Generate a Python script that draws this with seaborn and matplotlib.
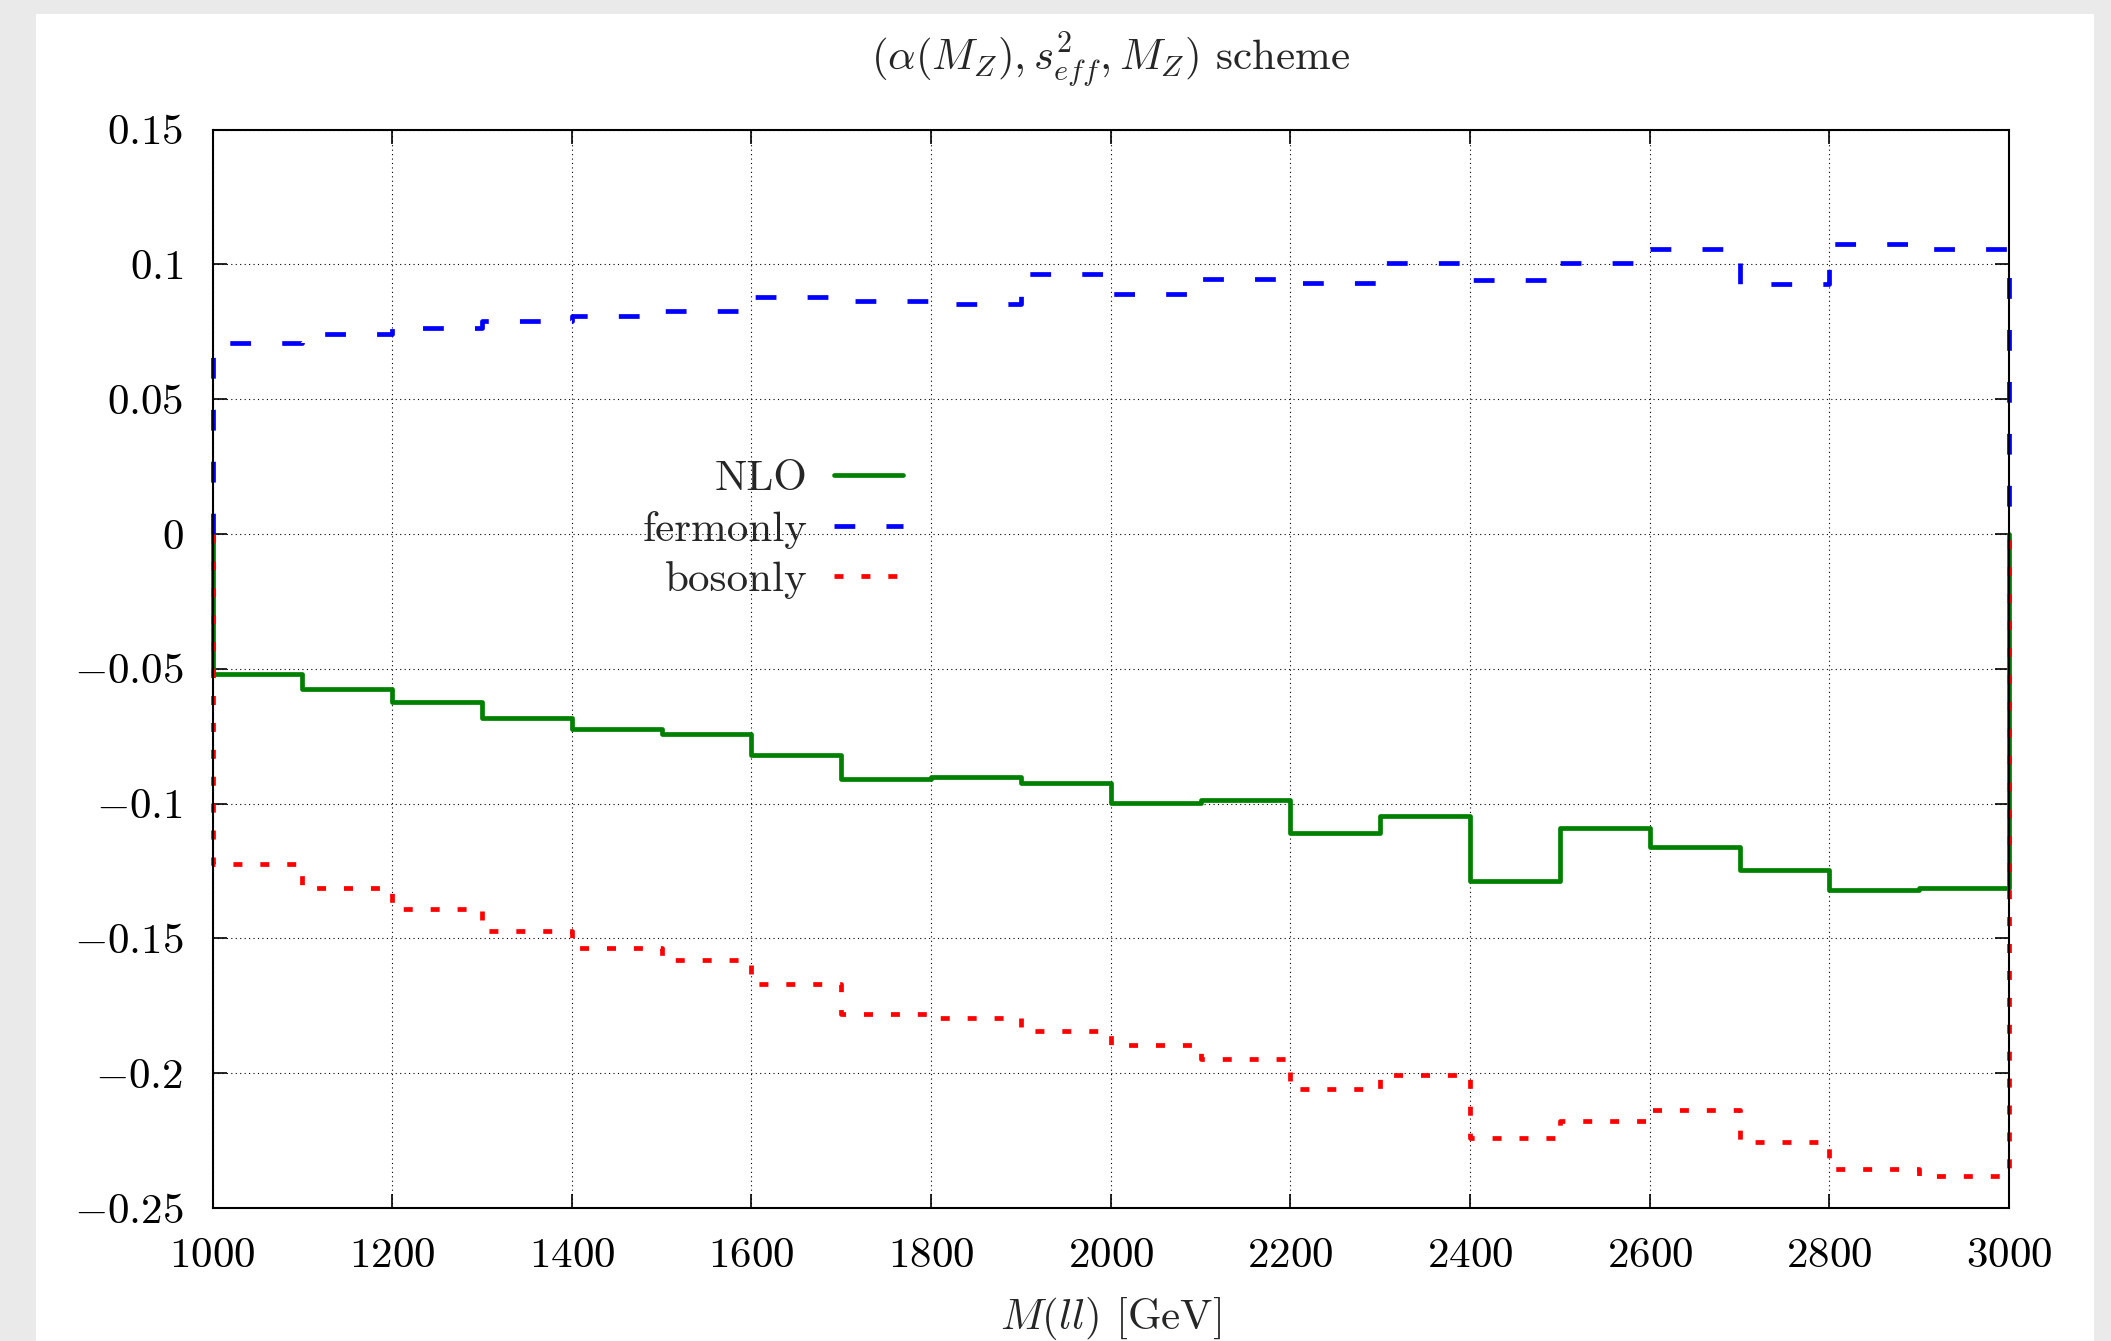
import numpy as np
import pandas as pd
import matplotlib
matplotlib.use("Agg")
import matplotlib.pyplot as plt
import seaborn as sns
from matplotlib.patches import Rectangle
from matplotlib.ticker import FixedLocator, FixedFormatter

# ---------------- data ----------------
bin_edges = [1000, 1100, 1200, 1300, 1400, 1500, 1600, 1700, 1800, 1900, 2000,
             2100, 2200, 2300, 2400, 2500, 2600, 2700, 2800, 2900, 3000]

nlo = [-0.0520, -0.0574, -0.0623, -0.0681, -0.0723, -0.0742, -0.0820, -0.0910,
       -0.0903, -0.0924, -0.0998, -0.0985, -0.1109, -0.1046, -0.1288, -0.1092,
       -0.1160, -0.1245, -0.1321, -0.1312]

fermonly = [0.0707, 0.0741, 0.0764, 0.0789, 0.0808, 0.0827, 0.0878, 0.0865,
            0.0852, 0.0965, 0.0889, 0.0945, 0.0932, 0.1005, 0.0943, 0.1004,
            0.1058, 0.0928, 0.1074, 0.1056]

bosonly = [-0.1226, -0.1313, -0.1390, -0.1472, -0.1535, -0.1582, -0.1670, -0.1781,
           -0.1797, -0.1844, -0.1897, -0.1948, -0.2057, -0.2005, -0.2240, -0.2177,
           -0.2136, -0.2255, -0.2355, -0.2381]

series_labels = ["NLO", "fermonly", "bosonly"]

x_ticks = [1000, 1200, 1400, 1600, 1800, 2000, 2200, 2400, 2600, 2800, 3000]
x_tick_labels = ["1000", "1200", "1400", "1600", "1800", "2000", "2200", "2400",
                 "2600", "2800", "3000"]
y_ticks = [-0.25, -0.2, -0.15, -0.1, -0.05, 0.0, 0.05, 0.1, 0.15]
y_tick_labels = ["-0.25", "-0.2", "-0.15", "-0.1", "-0.05", "0", "0.05", "0.1", "0.15"]

title_text = r"$(\alpha(M_Z), s^2_{eff}, M_Z)$ scheme"
xlabel_text = r"$M(ll)$ [GeV]"


def step_frame(vals, label):
    xs = [bin_edges[0]] + list(bin_edges) + [bin_edges[-1]]
    ys = [0.0] + list(vals) + [vals[-1], 0.0]
    return pd.DataFrame({"x": xs, "y": ys, "series": label})


# ---------------- style ----------------
sns.set_theme(style="ticks")
plt.rcParams.update({
    "font.family": ["cmr10", "DejaVu Serif"],
    "mathtext.fontset": "cm",
    "axes.formatter.use_mathtext": True,
    "axes.unicode_minus": False,
})

W, H = 2111, 1341
fig = plt.figure(figsize=(W / 100, H / 100), dpi=100, facecolor="#eaeaea")
fig.add_artist(Rectangle((36 / W, 0), (2094 - 36) / W, 1 - 14 / H,
                         transform=fig.transFigure, facecolor="white",
                         edgecolor="none", zorder=-10))

ax = fig.add_axes([212.5 / W, 1 - 1208 / H, (2009 - 212.5) / W, (1208 - 129.5) / H])
ax.set_facecolor("white")

lw = 3.4
styles = [
    dict(color="#008000", linestyle="-"),
    dict(color="#0000ff", linestyle=(0, (4.4, 6.6))),
    dict(color="#ff0000", linestyle=(0, (1.9, 3.8))),
]
for vals, lab, st in zip([nlo, fermonly, bosonly], series_labels, styles):
    df = step_frame(vals, lab)
    sns.lineplot(data=df, x="x", y="y", ax=ax, sort=False, estimator=None,
                 drawstyle="steps-post", linewidth=lw, label=lab,
                 dash_capstyle="butt", clip_on=False, **st)

ax.set_xlim(1000, 3000)
ax.set_ylim(-0.25, 0.15)
ax.xaxis.set_major_locator(FixedLocator(x_ticks))
ax.xaxis.set_major_formatter(FixedFormatter(["$" + t + "$" for t in x_tick_labels]))
ax.yaxis.set_major_locator(FixedLocator(y_ticks))
ax.yaxis.set_major_formatter(FixedFormatter(["$" + t + "$" for t in y_tick_labels]))

ax.grid(True, color="black", linestyle=(0, (1, 3)), linewidth=0.8)
ax.tick_params(direction="in", length=10, width=1.2, top=True, right=True,
               labelsize=31, pad=21, colors="black")
for s in ax.spines.values():
    s.set_visible(True)
    s.set_color("black")
    s.set_linewidth(1.5)

ax.set_xlabel("")
ax.set_ylabel("")

leg = ax.legend(loc="center right", bbox_to_anchor=(0.3844, 0.629),
                frameon=False, markerfirst=False, fontsize=31, borderpad=0,
                borderaxespad=0, handlelength=1.6, handletextpad=0.62,
                labelspacing=0.28)

fig.text(1111 / W, 1 - 61 / H, title_text, ha="center", va="center", fontsize=31)
fig.text(1111 / W, 1 - 1319 / H, xlabel_text, ha="center", va="center", fontsize=31)

fig.savefig("out.png", dpi=100, facecolor=fig.get_facecolor())
